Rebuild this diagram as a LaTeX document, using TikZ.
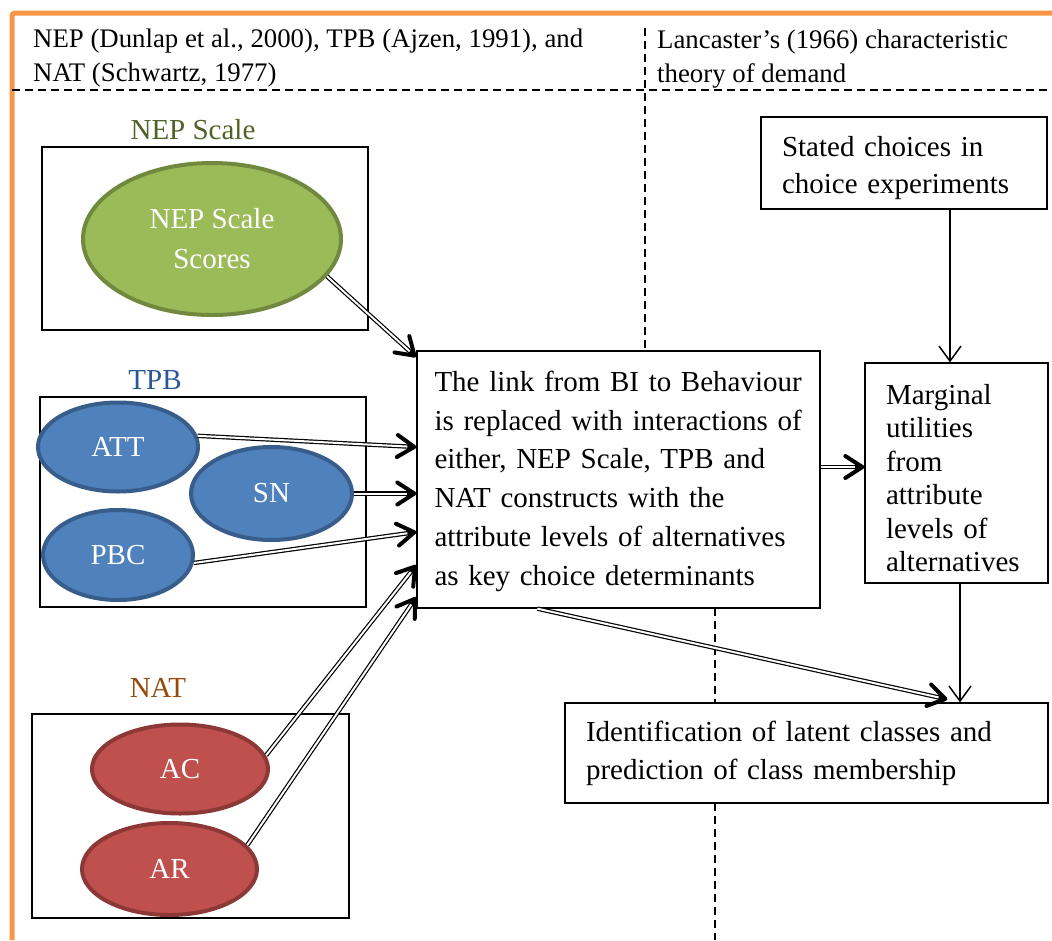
\documentclass[tikz,border=0pt]{standalone}
\usepackage{fontspec}
\setmainfont{Liberation Serif}
\usetikzlibrary{arrows.meta,shapes.geometric,positioning,decorations.markings}
\definecolor{frameorange}{HTML}{F79646}
\definecolor{nepfill}{HTML}{9BBB59}
\definecolor{nepline}{HTML}{71893F}
\definecolor{nepgreen}{HTML}{4F6228}
\definecolor{tpbfill}{HTML}{4F81BD}
\definecolor{tpbline}{HTML}{385D8A}
\definecolor{tpbblue}{HTML}{2B579A}
\definecolor{natfill}{HTML}{C0504D}
\definecolor{natline}{HTML}{8C3836}
\definecolor{natbrown}{HTML}{984807}

\begin{document}
\begin{tikzpicture}[x=1pt,y=-1pt,
  hdr/.style={font=\fontsize{26.8}{34}\selectfont,align=left,inner sep=0pt},
  lbl/.style={font=\fontsize{29}{34}\selectfont,anchor=base,inner sep=0pt},
  box/.style={draw,line width=1.3pt,fill=white,align=left,inner ysep=0pt,inner xsep=21pt},
  grp/.style={draw,line width=1.3pt,inner sep=0pt},
  oval/.style={ellipse,line width=4pt,inner sep=0pt,text=white,align=center,
    font=\fontsize{29}{40}\selectfont},
  divider/.style={dash pattern=on 8pt off 5pt,line width=1.6pt},
  dbl/.style={line width=4.4pt,shorten >=3pt,
    postaction={draw=white,line width=2pt,shorten >=9pt},
    postaction={decorate,decoration={markings,mark=at position 1 with
      {\draw[line width=4pt,line cap=round,line join=round,shorten >=0pt]
        (-19pt,11pt) -- (-2pt,0pt) -- (-19pt,-11pt);}}}},
  sgl/.style={line width=1.5pt,-{Straight Barb[length=15pt,width=22pt,line width=1.5pt]}}]
\useasboundingbox (0,0) rectangle (1052,940);
% frame and dividers
\draw[frameorange,line width=5pt,rounded corners=3pt] (12,940) -- (12,13) -- (1052,13);
\draw[divider] (12,90) -- (1052,90);
\draw[divider] (645,28) -- (645,352);
\draw[divider] (715,608) -- (715,940);
% headings
\node[hdr,anchor=west] (hleft) at (33,58) {NEP (Dunlap et al., 2000), TPB (Ajzen, 1991), and\\NAT (Schwartz, 1977)};
\node[hdr,anchor=west] (hright) at (657,59) {Lancaster’s (1966) characteristic\\theory of demand};
% NEP scale
\node[grp,minimum width=326pt,minimum height=183pt] (nepbox) at (205,238.5) {};
\node[lbl,text=nepgreen] (neplbl) at (193,139) {NEP Scale};
\node[oval,fill=nepfill,draw=nepline,minimum width=258pt,minimum height=152pt] (nep) at (212,239) {NEP Scale\\Scores};
% TPB
\node[grp,minimum width=326pt,minimum height=210pt] (tpbbox) at (203,502) {};
\node[lbl,text=tpbblue] (tpblbl) at (155,389) {TPB};
\node[oval,fill=tpbfill,draw=tpbline,minimum width=160pt,minimum height=89pt] (att) at (118,447) {ATT};
\node[oval,fill=tpbfill,draw=tpbline,minimum width=161pt,minimum height=93pt] (sn) at (271.5,493.5) {SN};
\node[oval,fill=tpbfill,draw=tpbline,minimum width=150pt,minimum height=90pt] (pbc) at (118,555) {PBC};
% NAT
\node[grp,minimum width=317pt,minimum height=204pt] (natbox) at (190.5,816) {};
\node[lbl,text=natbrown] (natlbl) at (158,697) {NAT};
\node[oval,fill=natfill,draw=natline,minimum width=176pt,minimum height=89pt] (ac) at (180,769) {AC};
\node[oval,fill=natfill,draw=natline,minimum width=175pt,minimum height=92pt] (ar) at (169.5,869) {AR};
% text boxes
\node[box,font=\fontsize{29}{38.8}\selectfont,text width=368pt,inner xsep=17.5pt,
  minimum width=403pt,minimum height=257pt] (main) at (618.5,479.5)
  {\rule{0pt}{24pt}The link from BI to Behaviour\\is replaced with interactions of\\either, NEP Scale, TPB and\\NAT constructs with the\\attribute levels of alternatives\\as key choice determinants};
\node[box,font=\fontsize{29}{37}\selectfont,text width=244pt,minimum width=286pt,
  minimum height=92pt] (stated) at (904,163) {\rule{0pt}{31pt}Stated choices in\\choice experiments};
\node[box,font=\fontsize{29}{33.5}\selectfont,text width=141pt,minimum width=183pt,
  minimum height=220pt] (marg) at (956.5,473) {\rule{0pt}{30pt}Marginal\\utilities\\from\\attribute\\levels of\\alternatives};
\node[box,font=\fontsize{29}{38}\selectfont,text width=441pt,minimum width=483pt,
  minimum height=100pt] (ident) at (806.5,753) {Identification of latent classes and\\prediction of class membership};
% connectors
\draw[dbl] (nep.-18) -- ([yshift=-7pt]main.north west);
\draw[dbl] (att.8) -- (main.west |- att);
\draw[dbl] (sn.east) -- (main.west |- sn.east);
\draw[dbl] (pbc.-6) -- ([yshift=-52.5pt]main.west);
\draw[dbl] (ac.9) -- ([yshift=-85.5pt]main.west);
\draw[dbl] (ar.17) -- ([yshift=-117.5pt]main.west);
\draw[dbl] ([yshift=12.5pt]main.east) -- ([yshift=12.5pt]main.east -| marg.west);
\draw[dbl] ([xshift=121pt]main.south west) -- ([xshift=383pt,yshift=3pt]ident.north west);
\coordinate (s1) at ([xshift=46pt]stated.south);
\draw[sgl] (s1) -- (s1 |- marg.north);
\coordinate (m1) at ([xshift=3.5pt]marg.south);
\draw[sgl] (m1) -- (m1 |- ident.north);
\end{tikzpicture}
\end{document}
